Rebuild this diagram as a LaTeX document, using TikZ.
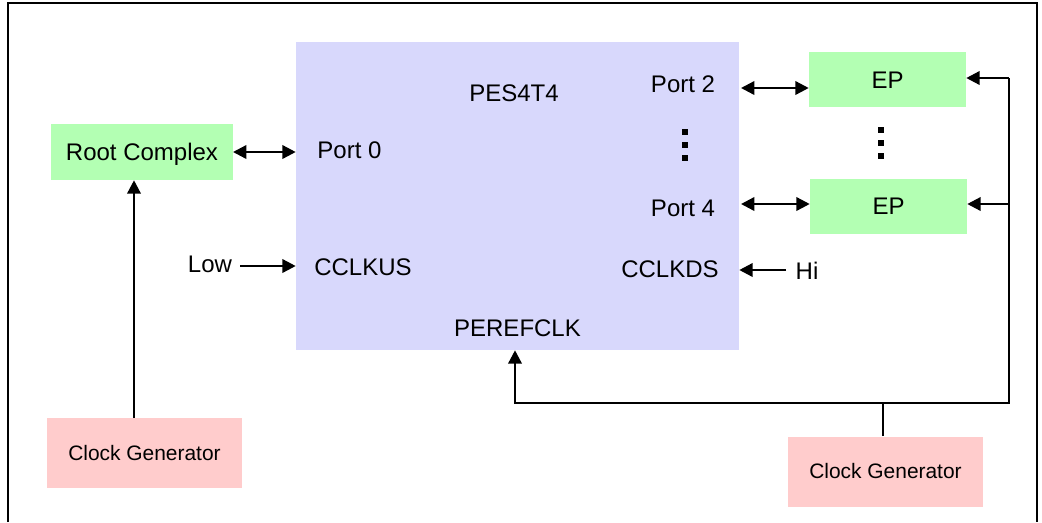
\documentclass[tikz,border=0pt]{standalone}
\usepackage{fontspec}
\setmainfont{Liberation Sans}
\usetikzlibrary{arrows.meta}
\definecolor{chipblue}{RGB}{216,216,252}
\definecolor{epgreen}{RGB}{179,255,179}
\definecolor{clkpink}{RGB}{255,204,204}
\tikzset{
  blk/.style={inner sep=0pt, text height=12.8pt, text depth=0pt, font=\fontsize{18}{20}\selectfont},
  clkbox/.style={blk, fill=clkpink, minimum width=146.25pt, minimum height=52.5pt, text height=11.2pt, font=\fontsize{15.7}{18}\selectfont},
  epbox/.style={blk, fill=epgreen, minimum width=117.75pt, minimum height=41.25pt},
  lbl/.style={inner sep=0pt, anchor=base, font=\fontsize{18}{20}\selectfont},
  sig/.style={line width=1.8pt, -{Triangle[length=10pt,width=10pt]}},
  bisig/.style={line width=1.8pt, {Triangle[length=10pt,width=10pt]}-{Triangle[length=10pt,width=10pt]}},
  wire/.style={line width=1.8pt}
}
\begin{document}
\begin{tikzpicture}[x=0.75pt,y=0.75pt,yscale=-1]
\useasboundingbox (0,0) rectangle (1042,522);

%Frame
\draw[line width=2pt] (8,522) -- (8,3) -- (1037,3) -- (1037,522);

%Shape: Rectangle
\node[blk, fill=chipblue, minimum width=332.25pt, minimum height=231pt] (pes) at (517.5,196) {};
%Shape: Rectangle
\node[blk, fill=epgreen, minimum width=136.5pt, minimum height=42pt] (rc) at (142,152) {Root Complex};
%Shape: Rectangle
\node[epbox] (ep2) at (887.5,79.5) {EP};
%Shape: Rectangle
\node[epbox] (ep4) at (888.5,206) {EP};
%Shape: Rectangle
\node[clkbox] (cg1) at (144.5,453) {Clock Generator};
%Shape: Rectangle
\node[clkbox] (cg2) at (885.5,471.5) {Clock Generator};

% Text Node
\node[lbl] (chip) at (514,101) {PES4T4};
% Text Node
\node[lbl] (p0) at (349.5,158) {Port 0};
% Text Node
\node[lbl] (p2) at (683,92.5) {Port 2};
% Text Node
\node[lbl] (p4) at (683,216.5) {Port 4};
% Text Node
\node[lbl] (us) at (363,275) {CCLKUS};
% Text Node
\node[lbl] (ds) at (670,277) {CCLKDS};
% Text Node
\node[lbl] (ref) at (517.5,336) {PEREFCLK};
% Text Node
\node[lbl] (low) at (210,272) {Low};
% Text Node
\node[lbl] (hi) at (807,279) {Hi};

%Dots
\foreach \y in {0,13,26} {
  \fill (682,129+\y) rectangle +(6,6);
  \fill (878,127+\y) rectangle +(6,6);
}

%Coordinates
\coordinate (a0) at (233,152);
\coordinate (a2) at (741,88);
\coordinate (a4) at (741,204);
\coordinate (alow) at (240,266);
\coordinate (ahi) at (786,270);
\coordinate (clk1) at (134,418);
\coordinate (bus) at (883,403);
\coordinate (tap) at (515,403);
\coordinate (rail) at (1009,403);
\coordinate (rtop) at (1009,78);
\coordinate (rmid) at (1009,204);

%Straight Lines
\draw[bisig] (a0) -- (a0 -| pes.west);
\draw[bisig] (a2) -- (a2 -| ep2.west);
\draw[bisig] (a4) -- (a4 -| ep4.west);
\draw[sig] (alow) -- (alow -| pes.west);
\draw[sig] (ahi) -- (ahi -| pes.east);
\draw[sig] (clk1) -- (clk1 |- rc.south);

%Clock tree
\draw[wire] (bus |- cg2.north) -- (bus);
\draw[sig] (bus) -- (tap) -- (tap |- pes.south);
\draw[wire] (bus) -- (rail) -- (rtop);
\draw[sig] (rtop) -- (rtop -| ep2.east);
\draw[sig] (rmid) -- (rmid -| ep4.east);

\end{tikzpicture}
\end{document}
